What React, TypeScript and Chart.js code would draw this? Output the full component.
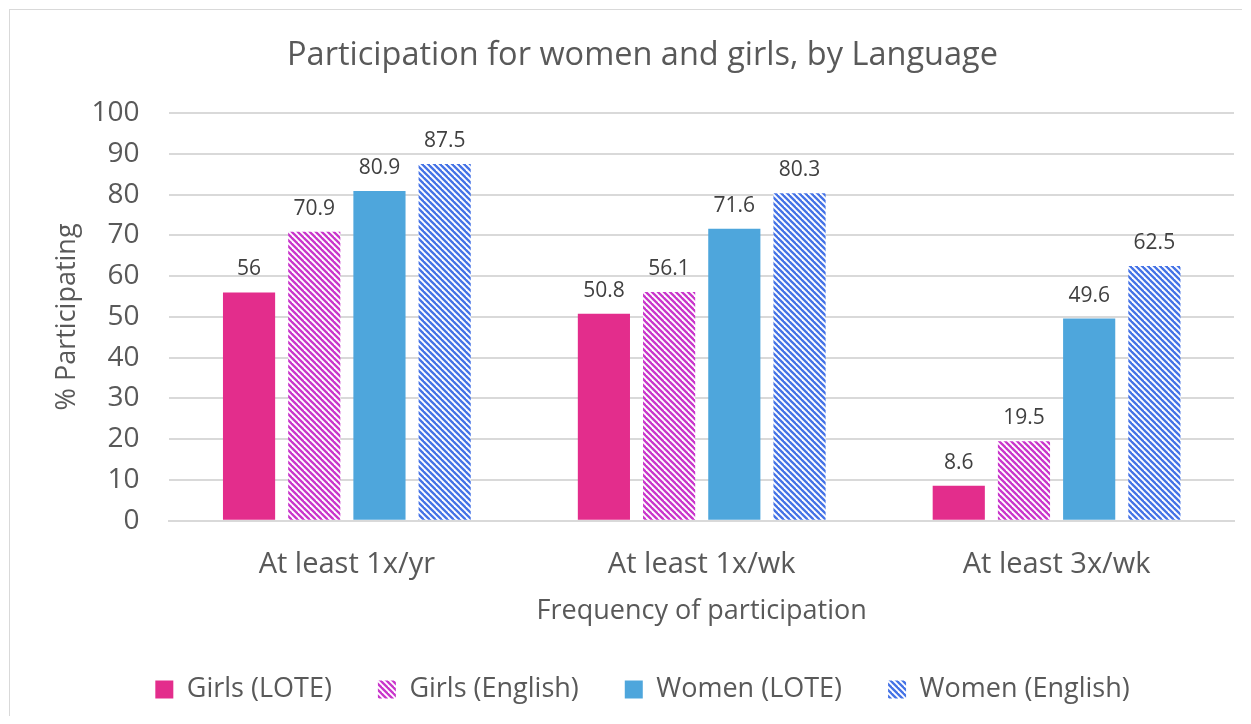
import React, { useEffect, useRef } from "react";
import { Chart, registerables } from "chart.js";

Chart.register(...registerables);

const categories = ["At least 1x/yr", "At least 1x/wk", "At least 3x/wk"];
const girlsLote = [56, 50.8, 8.6];
const girlsEnglish = [70.9, 56.1, 19.5];
const womenLote = [80.9, 71.6, 49.6];
const womenEnglish = [87.5, 80.3, 62.5];
const seriesNames = ["Girls (LOTE)", "Girls (English)", "Women (LOTE)", "Women (English)"];

const FONT = '"Open Sans", sans-serif';

function makeStripe(color: string): CanvasPattern | string {
  const size = 6;
  const c = document.createElement("canvas");
  c.width = size;
  c.height = size;
  const ctx = c.getContext("2d");
  if (!ctx) return color;
  ctx.fillStyle = "#ffffff";
  ctx.fillRect(0, 0, size, size);
  ctx.strokeStyle = color;
  ctx.lineWidth = 2.3;
  for (let k = -1; k <= 1; k++) {
    ctx.beginPath();
    ctx.moveTo(k * size - 1, -1);
    ctx.lineTo(k * size + size + 1, size + 1);
    ctx.stroke();
  }
  return ctx.createPattern(c, "repeat") || color;
}

const labelPlugin = {
  id: "barLabels",
  afterDatasetsDraw(chart: any) {
    const ctx = chart.ctx;
    ctx.save();
    ctx.font = `21px ${FONT}`;
    ctx.fillStyle = "#404040";
    ctx.textAlign = "center";
    ctx.textBaseline = "alphabetic";
    chart.data.datasets.forEach((ds: any, i: number) => {
      const meta = chart.getDatasetMeta(i);
      meta.data.forEach((bar: any, j: number) => {
        ctx.fillText(String(ds.data[j]), bar.x, bar.y - 17);
      });
    });
    ctx.restore();
  },
};

export default function App() {
  const ref = useRef<HTMLCanvasElement | null>(null);
  useEffect(() => {
    if (!ref.current) return;
    const common = { categoryPercentage: 0.735, barPercentage: 0.8, borderWidth: 0 };
    const chart = new Chart(ref.current, {
      type: "bar",
      data: {
        labels: categories,
        datasets: [
          { label: seriesNames[0], data: girlsLote, backgroundColor: "#E32D8C", ...common },
          { label: seriesNames[1], data: girlsEnglish, backgroundColor: makeStripe("#C935CB"), ...common },
          { label: seriesNames[2], data: womenLote, backgroundColor: "#4EA6DC", ...common },
          { label: seriesNames[3], data: womenEnglish, backgroundColor: makeStripe("#4472E6"), ...common },
        ],
      },
      options: {
        animation: false,
        responsive: false,
        maintainAspectRatio: false,
        layout: { padding: { top: 10, left: 41, right: 8, bottom: 3 } },
        plugins: {
          title: {
            display: true,
            text: "Participation for women and girls, by Language",
            color: "#595959",
            font: { family: FONT, size: 32.5, weight: "normal" },
            padding: { top: 16, bottom: 38 },
          },
          legend: {
            position: "bottom",
            labels: {
              color: "#595959",
              font: { family: FONT, size: 27 },
              boxWidth: 18,
              boxHeight: 18,
              padding: 46,
            },
          },
          tooltip: { enabled: false },
        },
        scales: {
          x: {
            grid: { display: false },
            border: { display: true, color: "#d9d9d9", width: 2 },
            ticks: { color: "#595959", font: { family: FONT, size: 29 }, padding: 19 },
            title: {
              display: true,
              text: "Frequency of participation",
              color: "#595959",
              font: { family: FONT, size: 27 },
              padding: { top: -6, bottom: 2 },
            },
          },
          y: {
            min: 0,
            max: 100,
            ticks: { stepSize: 10, color: "#595959", font: { family: FONT, size: 28 }, padding: 30 },
            grid: { color: "#d9d9d9", lineWidth: 2, drawTicks: false },
            border: { display: false },
            title: {
              display: true,
              text: "% Participating",
              color: "#595959",
              font: { family: FONT, size: 27 },
              padding: { top: 0, bottom: -22 },
            },
          },
        },
      },
      plugins: [labelPlugin],
    });
    return () => chart.destroy();
  }, []);
  return (
    <div
      style={{
        marginLeft: 1,
        marginTop: 1,
        width: 1232,
        height: 706,
        borderLeft: "1px solid #d9d9d9",
        borderTop: "1px solid #d9d9d9",
      }}
    >
      <canvas ref={ref} width={1232} height={706} style={{ display: "block" }} />
    </div>
  );
}
